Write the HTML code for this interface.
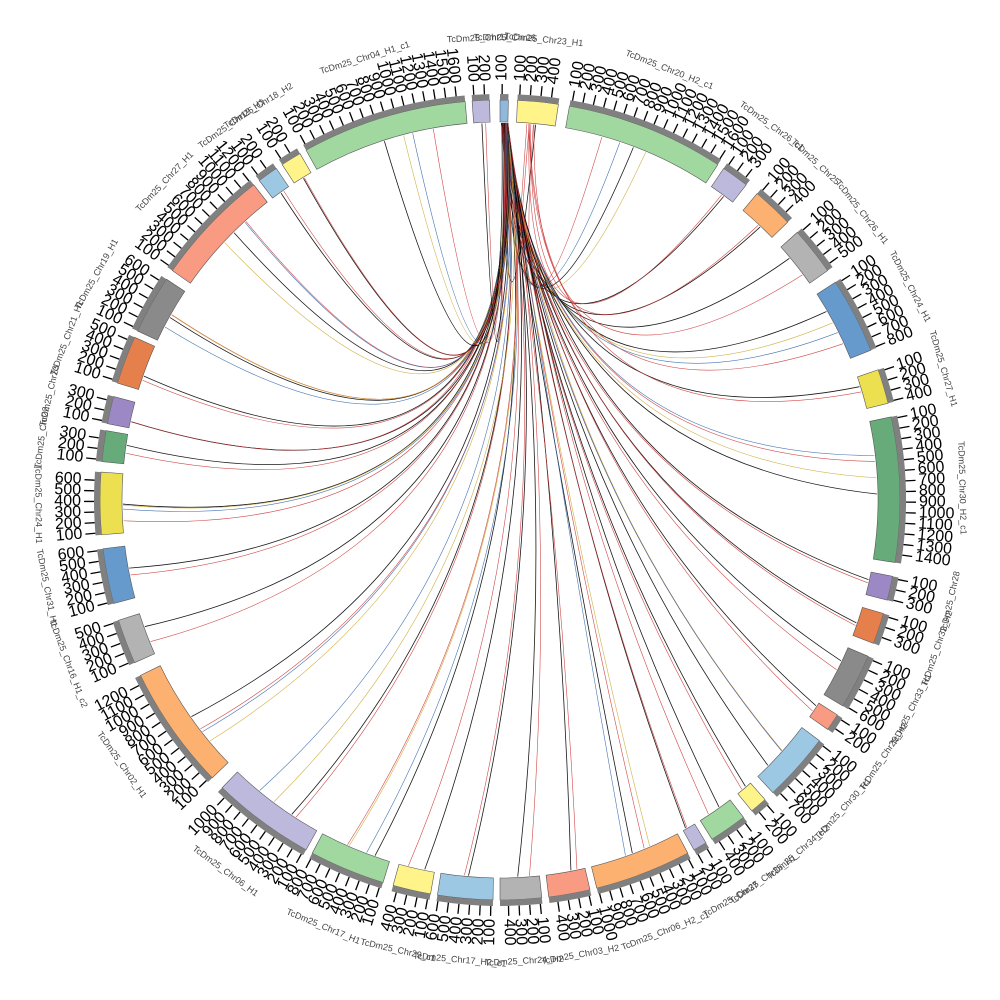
<!DOCTYPE html>
<html><head><meta charset="utf-8">
<style>html,body{margin:0;padding:0;background:#fff;width:1000px;height:1000px;overflow:hidden}svg{display:block}</style>
</head><body>
<svg id="s" width="1000" height="1000" viewBox="0 0 1000 1000" xmlns="http://www.w3.org/2000/svg" font-family="Liberation Sans, sans-serif" overflow="hidden"></svg>
<script>
const S=document.getElementById('s'),NS='http://www.w3.org/2000/svg',cx=500,cy=500;
function pt(r,a){const t=a*Math.PI/180;return [cx+r*Math.sin(t),cy-r*Math.cos(t)];}
function el(n,at,txt){const e=document.createElementNS(NS,n);for(const k in at)e.setAttribute(k,at[k]);if(txt!==undefined)e.textContent=txt;S.appendChild(e);return e;}
function arc(r1,r2,a1,a2){const [x1,y1]=pt(r2,a1),[x2,y2]=pt(r2,a2),[x3,y3]=pt(r1,a2),[x4,y4]=pt(r1,a1);const l=(a2-a1)>180?1:0;
return `M${x1},${y1}A${r2},${r2} 0 ${l} 1 ${x2},${y2}L${x3},${y3}A${r1},${r1} 0 ${l} 0 ${x4},${y4}Z`;}
const segs=[
[0,1.2,'#8fb8db','TcDm25_Chr26'],[2.5,8.4,'#fef48a','TcDm25_Chr23_H1'],[10,33,'#a0d8a0','TcDm25_Chr20_H2_c1'],
[34,38,'#bcb9dc','TcDm25_Chr26_c1'],[40,46,'#fdb170','TcDm25_Chr25'],[48,55,'#b3b3b3','TcDm25_Chr26_H1'],
[57,68,'#6699cc','TcDm25_Chr24_H1'],[71,76,'#ede050','TcDm25_Chr27_H1'],[78,99,'#67ab7a','TcDm25_Chr30_H2_c1'],
[101,104.5,'#9b88c4','TcDm25_Chr28'],[106.5,111,'#e5804d','TcDm25_Chr32_H2'],[113,121,'#8a8a8a','TcDm25_Chr33_H1'],
[122.5,125,'#f99b82','TcDm25_Chr29_H2'],[127,137,'#9dc8e3','TcDm25_Chr30_H1'],[138.5,141,'#fef48a','TcDm25_Chr34_H2'],
[142.5,148,'#a0d8a0','TcDm25_Chr35_H1'],[149,151,'#bcb9dc','TcDm25_Chr37'],[152,166,'#fdb170','TcDm25_Chr06_H2_c1'],
[167,173,'#f99b82','TcDm25_Chr03_H2'],[174,180,'#b3b3b3','TcDm25_Chr24_H2'],[181,189,'#9dc8e3','TcDm25_Chr17_H2_c1'],
[190,195.5,'#fef48a','TcDm25_Chr29_c1'],[197,208,'#a0d8a0','TcDm25_Chr17_H1'],[209,224,'#bcb9dc','TcDm25_Chr06_H1'],
[226,244,'#fdb170','TcDm25_Chr02_H1'],[246,252.5,'#b3b3b3','TcDm25_Chr16_H1_c2'],[255,263,'#6699cc','TcDm25_Chr31_H1'],
[265,274,'#ede050','TcDm25_Chr24_H1'],[275.5,280,'#67ab7a','TcDm25_Chr22'],[281,285,'#9b88c4','TcDm25_Chr23'],
[287,294,'#e5804d','TcDm25_Chr21_H1'],[295,303.5,'#8a8a8a','TcDm25_Chr19_H1'],[305,322,'#f99b82','TcDm25_Chr27_H1'],
[323,326,'#9dc8e3','TcDm25_Chr19_H1'],[327,330,'#fef48a','TcDm25_Chr18_H2'],[331,355,'#a0d8a0','TcDm25_Chr04_H1_c1'],
[356,358.5,'#bcb9dc','TcDm25_Chr11']];
const cc=['#000','#c33','#ca3','#36a','#3a6','#888'];
let seed=7;function rnd(){seed=(seed*9301+49297)%233280;return seed/233280;}
segs.forEach((s,i)=>{if(i==0)return;const n=s[1]-s[0]>8?4:2;
for(let k=0;k<n;k++){const a=s[0]+(s[1]-s[0])*(0.2+0.6*rnd());const src=0.2+rnd()*1.0+(i<8&&k==1?4:0);
const [x1,y1]=pt(377,src),[x2,y2]=pt(377,a);const [qx,qy]=pt(60,(src+a)/2);
el('path',{d:`M${x1},${y1}Q${qx},${qy} ${x2},${y2}`,fill:'none',stroke:cc[k%cc.length],'stroke-width':k==0?0.8:0.6,opacity:0.9});}});
segs.forEach(s=>{el('path',{d:arc(378,400,s[0],s[1]),fill:s[2],stroke:'#555','stroke-width':0.6});
el('path',{d:arc(400,406,s[0],s[1]),fill:'#808080'});
let c=0;
for(let a=s[0]+0.3;a<=s[1];a+=1.5){c++;const [x1,y1]=pt(406,a),[x2,y2]=pt(416,a);
el('line',{x1,y1,x2,y2,stroke:'#000','stroke-width':1.3});
const [tx,ty]=pt(419,a);let rot=a-90,anchor='start';if(a>180){rot=a+90;anchor='end';}
el('text',{x:tx,y:ty,'font-size':16,fill:'#000','text-anchor':anchor,'dominant-baseline':'middle',transform:`rotate(${rot} ${tx} ${ty})`},String(c*100));}
const m=(s[0]+s[1])/2;const [nx,ny]=pt(462,m);let rot=(m<90||m>270)?m:m-180;
el('text',{x:nx,y:ny,'font-size':9,fill:'#444','text-anchor':'middle','dominant-baseline':'middle',transform:`rotate(${rot} ${nx} ${ny})`},s[3]);});
</script>
</body></html>
